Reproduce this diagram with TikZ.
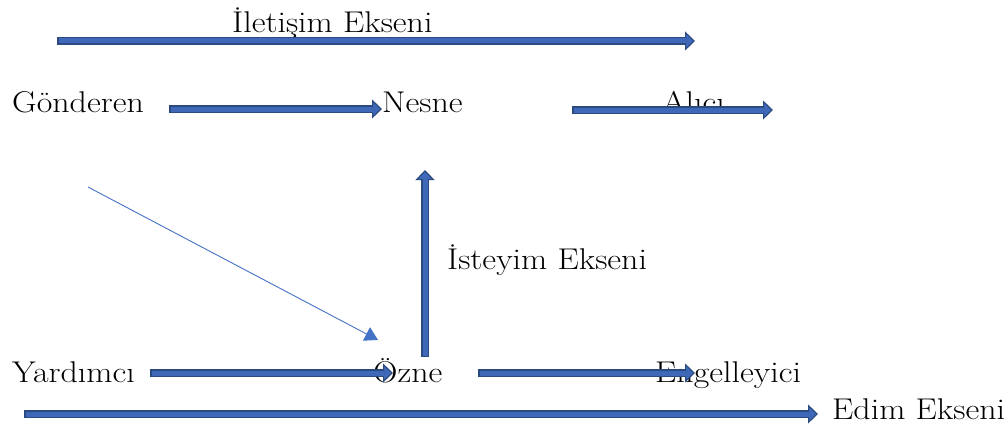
\documentclass[tikz,border=0pt]{standalone}
\usepackage{fontspec}
\setmainfont{Latin Modern Roman}[FakeStretch=1.13]
\usetikzlibrary{arrows.meta,positioning}

\definecolor{axisedge}{HTML}{2A4A80}
\definecolor{axisfill}{HTML}{3F69B8}
\definecolor{pointblue}{HTML}{4472C4}

\tikzset{
  lbl/.style={anchor=base west, inner sep=0pt, font=\fontsize{30}{34}\selectfont},
  axis/.style={draw=axisedge, line width=8pt,
    -{Triangle[length=10pt,width=19pt,fill=axisfill,line width=1.2pt]},
    postaction={draw=axisfill, line width=5pt, -, shorten >=9pt, shorten <=1.5pt}},
  pointer/.style={draw=pointblue, line width=0.9pt,
    -{Triangle[length=13pt,width=15pt]}}
}

\begin{document}
\begin{tikzpicture}[x=1pt,y=-1pt]
\useasboundingbox (0,0) rectangle (1007,428);

% actants
\node[lbl] (iletisim) at (232,33) {İletişim Ekseni};
\node[lbl] (gonderen) at (12,113) {Gönderen};
\node[lbl] (nesne) at (382,113) {Nesne};
\node[lbl] (alici) at (662,113) {Alıcı};
\node[lbl] (isteyim) at (447,269) {İsteyim Ekseni};
\node[lbl] (yardimci) at (12,382) {Yardımcı};
\node[lbl] (ozne) at (373,382) {Özne};
\node[lbl] (engel) at (655,382) {Engelleyici};
\node[lbl] (edim) at (832,419) {Edim Ekseni};

% free ends
\coordinate (iletA) at (57,41);
\coordinate (iletB) at (695,41);
\coordinate (aliciA) at (572,110);
\coordinate (aliciB) at (773,110);
\coordinate (isteyimA) at (425,357);
\coordinate (isteyimB) at (425,170);
\coordinate (engelA) at (478,373);
\coordinate (edimA) at (24,414);
\coordinate (diagA) at (88,187);

% axes
\draw[axis] (iletA) -- (iletB);
\draw[axis] ([xshift=25pt,yshift=4pt]gonderen.base east) -- ([yshift=4pt]nesne.base west);
\draw[axis] (aliciA) -- (aliciB);
\draw[axis] (isteyimA) -- (isteyimB);
\draw[axis] ([xshift=15pt,yshift=9pt]yardimci.base east) -- ([xshift=20pt,yshift=9pt]ozne.base west);
\draw[axis] (engelA) -- ([xshift=40pt,yshift=9pt]engel.base west);
\draw[axis] (edimA) -- ([xshift=-14pt,yshift=5pt]edim.base west);

\draw[pointer] (diagA) -- ([xshift=5pt,yshift=42pt]ozne.base west);
\end{tikzpicture}
\end{document}
